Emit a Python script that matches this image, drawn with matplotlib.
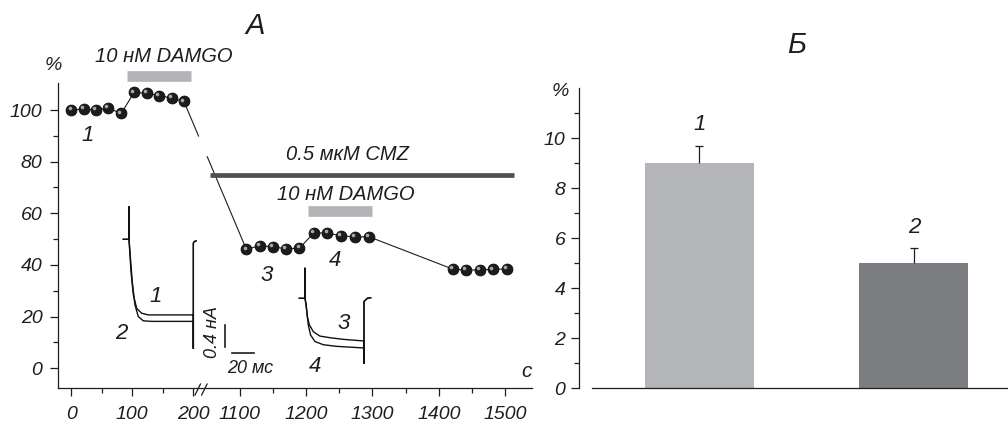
import numpy as np
import matplotlib
matplotlib.use('Agg')
import matplotlib.pyplot as plt
from matplotlib.transforms import offset_copy

plt.rcParams['font.family'] = ['Liberation Sans', 'DejaVu Sans']
plt.rcParams['font.style'] = 'italic'
plt.rcParams['lines.scale_dashes'] = False

W, H = 1008, 425
INK = '#1e1e1e'

# --- panel A: amplitude of the current, % of control ---
time_s = [0, 20, 40, 60, 82, 103, 124, 144, 165, 185,
          1110, 1130, 1150, 1170, 1190, 1212, 1232, 1253, 1274, 1295,
          1421, 1441, 1462, 1482, 1503]
amp_pct = [100.0, 100.4, 100.0, 100.7, 98.7, 106.8, 106.5, 105.6, 104.6, 103.3,
           46.0, 47.5, 47.0, 46.3, 46.5, 52.5, 52.3, 51.3, 50.9, 50.9,
           38.4, 38.0, 38.1, 38.3, 38.5]
damgo1_s = [91, 196]
damgo2_s = [1203, 1299]
cmz_s = [1055, 1513]
x_major = [0, 100, 200, 1100, 1200, 1300, 1400, 1500]
x_minor = [50, 150, 1150, 1250, 1350, 1450]
y_major = [0, 20, 40, 60, 80, 100]
y_minor = [10, 30, 50, 70, 90]

# current traces, ms / nA (pair 1-2 and pair 3-4)
tr1_t = [0, 5.1, 5.1, 5.1, 6.9, 9.0, 12.0, 16.5, 22.4, 62.7, 62.7, 62.7, 63.7, 65.1]
tr1_i = [0, 0, 0.60, 0, -0.60, -1.03, -1.28, -1.37, -1.40, -1.40, -2.02, -0.07, -0.04, -0.03]
tr2_t = [0, 5.1, 5.1, 5.1, 8.0, 10.4, 13.4, 17.9, 25.4, 62.7, 62.7, 62.7, 63.7, 65.1]
tr2_i = [0, 0, 0.60, 0, -0.78, -1.21, -1.43, -1.51, -1.52, -1.52, -2.02, -0.07, -0.04, -0.03]
tr3_t = [0, 5.1, 5.1, 5.1, 6.0, 7.2, 9.0, 12.6, 18.5, 27.5, 39.4, 57.9, 57.9, 57.9, 60.9, 63.9]
tr3_i = [0, 0, 0.556, 0, -0.09, -0.34, -0.49, -0.62, -0.70, -0.73, -0.76, -0.79, -1.20, -0.06, 0.0, 0.01]
tr4_t = [0, 5.1, 5.1, 5.1, 6.6, 8.0, 10.1, 14.0, 21.5, 33.5, 57.9, 57.9, 57.9, 60.9, 63.9]
tr4_i = [0, 0, 0.556, 0, -0.22, -0.49, -0.68, -0.80, -0.86, -0.89, -0.92, -1.20, -0.06, 0.0, 0.01]
scale_ms = 20
scale_na = 0.4

# --- panel B ---
groups = [1, 2]
group_labels = ['1', '2']
mean_pct = [9.0, 5.0]
sem_pct = [0.7, 0.6]
bar_colors = ['#b4b5b8', '#7c7d81']


def frac(x0, y0, x1, y1):
    # pixel box -> figure fraction rect
    return [x0 / W, 1 - y1 / H, (x1 - x0) / W, (y1 - y0) / H]


fig = plt.figure(figsize=(W / 100, H / 100), dpi=100)

# broken time axis: 0..220 s and 1050..1600 s
knots_t = [-1000, 220, 1050, 3000]
knots_u = [-536.3, 205.5, 206.85, 1499.7]


def fwd(t):
    return np.interp(t, knots_t, knots_u)


def inv(u):
    return np.interp(u, knots_u, knots_t)


ax = fig.add_axes(frac(57.7, 83.3, 531.7, 388))
ax.set_xscale('function', functions=(fwd, inv))
ax.set_xlim(-22.5, 1540)
ax.set_ylim(-7.63, 110.34)

ax.plot(time_s[:10], amp_pct[:10], color=INK, lw=0.8, zorder=2)
ax.plot(time_s[9:11], amp_pct[9:11], color=INK, lw=0.8, zorder=2,
        linestyle=(0, (27.4, 15.4, 200, 10)))
ax.plot(time_s[10:], amp_pct[10:], color=INK, lw=0.8, zorder=2)
ax.plot(time_s, amp_pct, 'o', ms=7.8, mfc='#1c1c1c', mec='#0a0a0a', mew=0.6, zorder=3)
shine = offset_copy(ax.transData, fig=fig, x=-1.3, y=1.3, units='points')
ax.plot(time_s, amp_pct, 'o', ms=2.6, color='#a8a8a8', mew=0, transform=shine, zorder=4)

ax.plot(damgo1_s, [113, 113], lw=7.7, color='#b3b4b7', solid_capstyle='butt', clip_on=False)
ax.plot(damgo2_s, [60.8, 60.8], lw=7.7, color='#b3b4b7', solid_capstyle='butt')
ax.plot(cmz_s, [74.8, 74.8], lw=3.4, color='#505050', solid_capstyle='butt')

ax.text(152, 120.9, '10 нМ DAMGO', ha='center', va='center', fontsize=14.5, color=INK, clip_on=False)
ax.text(1259, 67.1, '10 нМ DAMGO', ha='center', va='center', fontsize=14.5, color=INK)
ax.text(1263, 82.6, '0.5 мкМ CMZ', ha='center', va='center', fontsize=14.5, color=INK)
ax.text(27, 90.3, '1', ha='center', va='center', fontsize=16, color=INK)
ax.text(1141, 36.1, '3', ha='center', va='center', fontsize=16, color=INK)
ax.text(1244, 41.9, '4', ha='center', va='center', fontsize=16, color=INK)

ax.set_xticks(x_major)
ax.set_xticks(x_minor, minor=True)
ax.set_yticks(y_major)
ax.set_yticks(y_minor, minor=True)
for s in ['top', 'right']:
    ax.spines[s].set_visible(False)
for s in ['left', 'bottom']:
    ax.spines[s].set_linewidth(0.9)
    ax.spines[s].set_color(INK)
ax.tick_params(axis='both', which='major', length=6, width=0.9, color=INK, labelsize=14, labelcolor=INK)
ax.tick_params(axis='both', which='minor', length=3.5, width=0.9, color=INK)
ax.tick_params(axis='x', pad=7)
ax.tick_params(axis='y', pad=5)
ax.patch.set_alpha(0)

# break marks on the time axis
for x0 in (0.2897, 0.3037):
    ax.plot([x0, x0 + 0.0115], [-0.023, 0.013], transform=ax.transAxes,
            color=INK, lw=0.9, clip_on=False)

fig.text(53 / W, 1 - 65 / H, '%', ha='center', va='center', fontsize=14, color=INK)
fig.text(527 / W, 1 - 371.7 / H, 'с', ha='center', va='center', fontsize=15, color=INK)
fig.text(255 / W, 1 - 26 / H, 'А', ha='center', va='center', fontsize=21, color=INK)
fig.text(797 / W, 1 - 45 / H, 'Б', ha='center', va='center', fontsize=21, color=INK)

# current trace insets: 1.117 px per ms, 54 px per nA
PX_MS, PX_NA = 1.117, 54.0


def trace_axes(x0, y0, x1, y1, ox, oy):
    a = fig.add_axes(frac(x0, y0, x1, y1))
    a.set_xlim((x0 - ox) / PX_MS, (x1 - ox) / PX_MS)
    a.set_ylim(-(y1 - oy) / PX_NA, (oy - y0) / PX_NA)
    a.axis('off')
    return a


ins1 = trace_axes(110, 200, 260, 375, 123.3, 239.3)
ins1.plot(tr1_t, tr1_i, color='#111111', lw=1.0)
ins1.plot(tr2_t, tr2_i, color='#111111', lw=1.0)
ins1.text(28.5, -1.06, '1', ha='center', va='center', fontsize=16, color=INK)
ins1.text(-1.4, -1.74, '2', ha='center', va='center', fontsize=16, color=INK)
ins1.plot([91.0, 91.0], [-1.99, -1.99 + scale_na], color=INK, lw=1.2)
ins1.plot([97.0, 97.0 + scale_ms], [-2.1, -2.1], color=INK, lw=1.2)
ins1.text(80.3, -1.71, f'{scale_na} нА', rotation=90, ha='center', va='center', fontsize=13, color=INK)
ins1.text(113.4, -2.39, f'{scale_ms} мс', ha='center', va='center', fontsize=13, color=INK)

ins2 = trace_axes(290, 260, 380, 385, 299.3, 298.3)
ins2.plot(tr3_t, tr3_i, color='#111111', lw=1.0)
ins2.plot(tr4_t, tr4_i, color='#111111', lw=1.0)
ins2.text(39.4, -0.46, '3', ha='center', va='center', fontsize=16, color=INK)
ins2.text(14.1, -1.27, '4', ha='center', va='center', fontsize=16, color=INK)

# --- panel B ---
bx = fig.add_axes(frac(579.3, 88.3, 1008, 388.3))
bx.bar(groups, mean_pct, width=0.507, color=bar_colors, zorder=2)
eb = bx.errorbar(groups, mean_pct, yerr=[[0] * len(sem_pct), sem_pct], fmt='none',
                 ecolor=INK, elinewidth=0.9, capsize=3, capthick=0.9, zorder=3)
eb.lines[1][0].set_visible(False)
for g, m, e, lab in zip(groups, mean_pct, sem_pct, group_labels):
    bx.text(g, m + e + 0.85, lab, ha='center', va='center', fontsize=16, color=INK)
bx.set_xlim(0.4406, 2.439)
bx.set_ylim(0, 12)
bx.set_yticks([0, 2, 4, 6, 8, 10])
bx.set_yticks([1, 3, 5, 7, 9, 11], minor=True)
bx.set_xticks([])
for s in ['top', 'right']:
    bx.spines[s].set_visible(False)
for s in ['left', 'bottom']:
    bx.spines[s].set_linewidth(0.9)
    bx.spines[s].set_color(INK)
bx.spines['bottom'].set_bounds(0.498, 2.439)
bx.tick_params(axis='y', which='major', length=6, width=0.9, color=INK, labelsize=14, labelcolor=INK, pad=4)
bx.tick_params(axis='y', which='minor', length=3.5, width=0.9, color=INK)
bx.patch.set_alpha(0)
fig.text(560 / W, 1 - 92 / H, '%', ha='center', va='center', fontsize=14, color=INK)

fig.savefig('out.png', dpi=100)
